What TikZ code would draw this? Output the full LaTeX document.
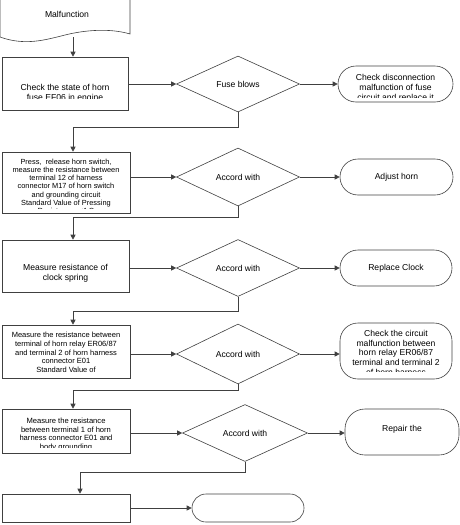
\documentclass[tikz,border=0pt]{standalone}
\usepackage{fontspec}
\setmainfont{Liberation Sans}
\usetikzlibrary{arrows.meta,shapes.geometric}
\begin{document}
\begin{tikzpicture}[x=1pt,y=-1pt,
  ln/.style={draw=black!75, line width=0.6pt},
  arr/.style={draw=black!75, line width=0.6pt, -{Triangle[length=5pt,width=5pt]}},
  proc/.style={ln, rectangle, inner sep=0pt},
  dec/.style={ln, diamond, inner sep=0pt, font=\fontsize{8.6}{10}\selectfont},
  term/.style={ln, rectangle, inner sep=0pt, align=center, font=\fontsize{8.6}{10}\selectfont},
  txt/.style={align=center, inner sep=0pt, anchor=north},
  big/.style={font=\fontsize{8.6}{10}\selectfont},
  small/.style={font=\fontsize{7.4}{8.2}\selectfont}]
\useasboundingbox (0,0) rectangle (460,525);

% start document shape
\draw[ln] (0,-2) -- (0,37) .. controls (25,46) and (45,40) .. (65,35) .. controls (85,30) and (110,28) .. (130,34) -- (130,-2);
\node[big, inner sep=0pt] (mal) at (67,14) {Malfunction};
\coordinate (m) at (73,37);

% process boxes
\node[proc, minimum width=126pt, minimum height=53pt] (b1) at (65,83.5) {};
\node[proc, minimum width=128pt, minimum height=61pt] (b2) at (66,182.5) {};
\node[proc, minimum width=127pt, minimum height=52pt] (b3) at (65.5,266) {};
\node[proc, minimum width=128pt, minimum height=53pt] (b4) at (66,351.5) {};
\node[proc, minimum width=128pt, minimum height=44pt] (b5) at (66,431) {};
\node[proc, minimum width=128pt, minimum height=28pt] (b6) at (66,508) {};

% decisions
\node[dec, minimum width=123pt, minimum height=56pt] (d1) at (238,84) {Fuse blows};
\node[dec, minimum width=123pt, minimum height=58pt] (d2) at (238,177) {Accord with};
\node[dec, minimum width=123pt, minimum height=57pt] (d3) at (238,268) {Accord with};
\node[dec, minimum width=123pt, minimum height=60pt] (d4) at (238,354) {Accord with};
\node[dec, minimum width=125pt, minimum height=57pt] (d5) at (245,433) {Accord with};

% terminals
\node[term, rounded corners=18pt, minimum width=115pt, minimum height=36pt] (e1) at (395.5,84) {};
\node[term, rounded corners=18pt, minimum width=113pt, minimum height=36pt] (e2) at (396.5,177) {Adjust horn};
\node[term, rounded corners=18pt, minimum width=112pt, minimum height=36pt] (e3) at (396,268) {Replace Clock};
\node[term, rounded corners=18pt, minimum width=112pt, minimum height=56pt] (e4) at (396,351) {};
\node[term, rounded corners=20pt, minimum width=114pt, minimum height=46pt] (e5) at (402,432) {};
\node[term, rounded corners=14pt, minimum width=112pt, minimum height=28pt] (e6) at (248,508) {};

% texts (clipped as in the source)
\begin{scope}
\clip (2,57) rectangle (128,98.2);
\node[txt, big] (t1) at (65,84.3) {Check the state of horn\\fuse EF06 in engine};
\end{scope}
\begin{scope}
\clip (2,152) rectangle (130,208);
\node[txt, small] (t2) at (66,158.8) {Press,~ release horn switch,\\measure the resistance between\\terminal 12 of harness\\connector M17 of horn switch\\and grounding circuit\\Standard Value of Pressing\\Resistance: <1\,Ω};
\end{scope}
\node[txt, big] (t3) at (65.5,264.3) {Measure resistance of\\clock spring};
\node[txt, font=\fontsize{7.5}{8.8}\selectfont] (t4) at (66,331.8) {Measure the resistance between\\terminal of horn relay ER06/87\\and terminal 2 of horn harness\\connector E01\\Standard Value of};
\begin{scope}
\clip (2,409) rectangle (130,447.5);
\node[txt, font=\fontsize{7.6}{8.6}\selectfont] (t5) at (66,417.8) {Measure the resistance\\between terminal 1 of horn\\harness connector E01 and\\body grounding};
\end{scope}
\begin{scope}
\clip (338,66) rectangle (453,97.8);
\node[txt, big] (u1) at (395.5,73.6) {Check disconnection\\malfunction of fuse\\circuit and replace it};
\end{scope}
\begin{scope}
\clip (340,323) rectangle (452,371);
\node[txt, font=\fontsize{8.6}{9.6}\selectfont] (u4) at (396,330.3) {Check the circuit\\malfunction between\\horn relay ER06/87\\terminal and terminal 2\\of horn harness};
\end{scope}
\node[txt, big] (u5) at (402,425.3) {Repair the};

% connectors
\draw[arr] (m) -- (m |- b1.north);
\draw[arr] (b1.east |- d1.west) -- (d1.west);
\draw[arr] (d1.east) -- (e1.west |- d1.east);
\coordinate (k1) at (73,127);
\draw[arr] (d1.south) |- (k1) -- (k1 |- b2.north);

\draw[arr] (b2.east |- d2.west) -- (d2.west);
\draw[arr] (d2.east) -- (e2.west |- d2.east);
\coordinate (k2) at (73,217);
\draw[arr] (d2.south) |- (k2) -- (k2 |- b3.north);

\draw[arr] (b3.east |- d3.west) -- (d3.west);
\draw[arr] (d3.east) -- (e3.west |- d3.east);
\coordinate (k3) at (73,311);
\draw[arr] (d3.south) |- (k3) -- (k3 |- b4.north);

\draw[arr] (b4.east |- d4.west) -- (d4.west);
\draw[arr] (d4.east) -- (e4.west |- d4.east);
\coordinate (k4) at (73,390);
\draw[arr] (d4.south) |- (k4) -- (k4 |- b5.north);

\draw[arr] (b5.east |- d5.west) -- (d5.west);
\draw[arr] (d5.east) -- (e5.west |- d5.east);
\coordinate (k5) at (80,472);
\draw[arr] (d5.south) |- (k5) -- (k5 |- b6.north);

\draw[arr] (b6.east) -- (e6.west);
\end{tikzpicture}
\end{document}
